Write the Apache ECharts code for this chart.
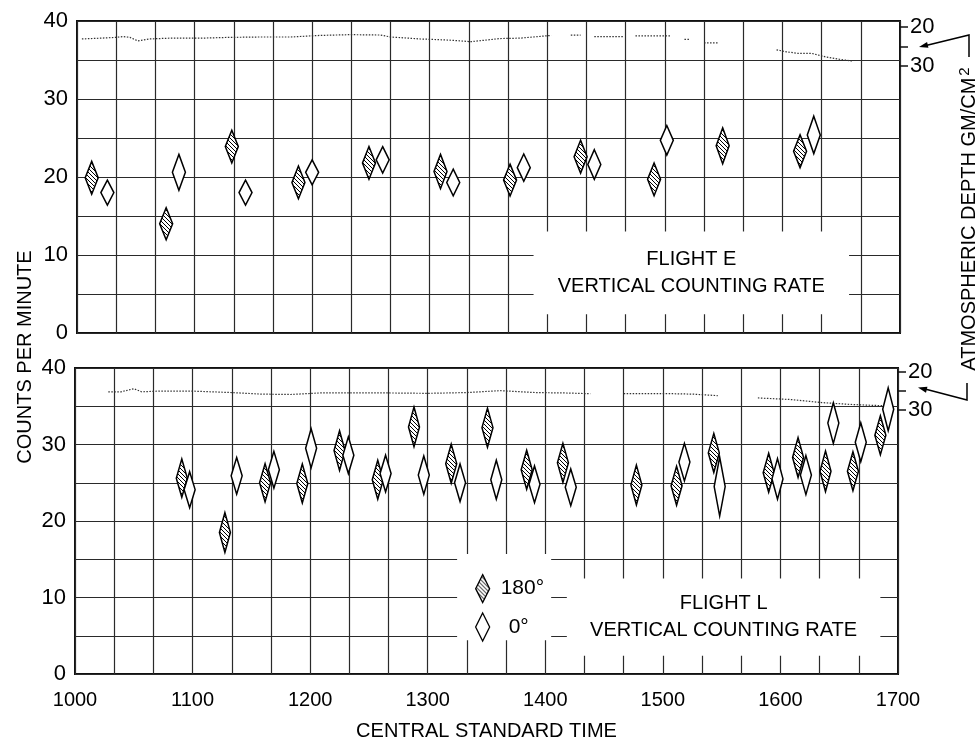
<!DOCTYPE html>
<html><head><meta charset="utf-8">
<script src="https://cdn.jsdelivr.net/npm/echarts@6/dist/echarts.min.js"></script>
<style>html,body{margin:0;padding:0;background:#fff}#c{width:979px;height:742px}</style>
</head><body><div id="c"></div>
<script>
// ---- data (time = minutes after 1000 CST) ----
const xTickLabels = ['1000','1100','1200','1300','1400','1500','1600','1700'];
const countLabels = [0, 10, 20, 30, 40];
const depthTicks = [20, 25, 30];
const depthLabels = [20, 30];

// Flight E, 180 deg (hatched)
const E180_t = [7.5, 45.5, 79, 113, 149, 185.5, 221, 257, 294.5, 329.5, 369];
const E180_r = [19.9, 14.0, 23.9, 19.3, 21.8, 20.7, 19.6, 22.6, 19.7, 24.0, 23.3];
const E180_e = [2.1, 2.05, 2.1, 2.1, 2.1, 2.2, 2.05, 2.1, 2.1, 2.3, 2.1];
// Flight E, 0 deg (open)
const E0_t = [15.5, 52, 86, 120, 156, 192, 228, 264, 301, 376];
const E0_r = [18.0, 20.6, 18.0, 20.6, 22.2, 19.3, 21.2, 21.6, 24.7, 25.4];
const E0_e = [1.6, 2.3, 1.6, 1.6, 1.7, 1.7, 1.75, 1.9, 1.9, 2.4];
// Flight L, 180 deg (hatched)
const L180_t = [54.5, 76.5, 97, 116, 135, 154.5, 173, 192, 210.5, 230.5, 249, 286.5, 307, 326, 354, 369, 383, 397, 411];
const L180_r = [25.6, 18.5, 25.0, 24.9, 29.2, 25.4, 32.3, 27.5, 32.2, 26.7, 27.6, 24.7, 24.6, 28.9, 26.3, 28.3, 26.5, 26.5, 31.2];
const L180_e = [2.5, 2.6, 2.5, 2.55, 2.6, 2.55, 2.6, 2.55, 2.55, 2.55, 2.55, 2.6, 2.55, 2.55, 2.55, 2.6, 2.65, 2.55, 2.55];
// Flight L, 0 deg (open)
const L0_t = [58.5, 82.5, 101.5, 120.5, 139.5, 158.5, 178, 196.5, 215, 234.5, 253, 311, 329, 358.5, 373, 387, 401, 415];
const L0_r = [24.1, 25.9, 26.7, 29.5, 28.6, 26.2, 26.0, 25.0, 25.4, 24.8, 24.4, 27.7, 24.5, 25.5, 26.0, 32.8, 30.3, 34.6];
const L0_e = [2.35, 2.4, 2.4, 2.55, 2.4, 2.4, 2.5, 2.45, 2.55, 2.4, 2.4, 2.45, 3.85, 2.65, 2.55, 2.65, 2.55, 2.8];

// Atmospheric depth traces (g/cm^2), null = gap
const Edepth_t = [2.5, 12, 20, 23.5, 27, 31, 37, 47.5, 63, 78, 93.5, 109, 124, 139.5, 155, 160, 175, 190, 201, 216, 226, 242, 246, 252, 257, 260, 264, 271, 279, 282, 285, 294, 303, 306, 310, 313, 316, 320, 327, 340, 357, 362, 368, 375, 382, 389, 396];
const Edepth_d = [23.1, 22.9, 22.7, 22.5, 22.7, 23.6, 23.1, 22.9, 22.9, 22.7, 22.6, 22.6, 22.2, 22.0, 22.1, 22.6, 23.1, 23.4, 23.8, 23.0, 22.9, 22.2, null, 22.1, 22.1, null, 22.5, 22.5, 22.5, null, 22.3, 22.3, 22.3, null, 23.2, 23.2, null, 24.1, 24.1, null, 25.9, 26.4, 26.8, 26.8, 27.7, 28.3, 28.8];
const Ldepth_t = [17, 23.5, 30, 34, 44, 59, 80, 95, 110, 125, 140, 160, 180, 200, 217, 235, 250, 263, 271, 280, 294, 305, 315, 328, 338, 348.5, 365, 381, 396, 416];
const Ldepth_d = [25.2, 25.2, 24.4, 25.2, 25.0, 25.0, 25.4, 25.8, 25.9, 25.5, 25.5, 25.5, 25.6, 25.4, 24.9, 25.4, 25.5, 25.7, null, 25.7, 25.7, 25.7, 25.8, 26.2, null, 26.8, 27.2, 28.0, 28.5, 28.9];

// ---- styling ----
const FONT = "'Liberation Sans', Arial, sans-serif";
const pc = document.createElement('canvas');
pc.width = 4; pc.height = 4;
const pctx = pc.getContext('2d');
pctx.fillStyle = '#fff'; pctx.fillRect(0, 0, 4, 4);
pctx.strokeStyle = '#000'; pctx.lineWidth = 1;
pctx.beginPath();
pctx.moveTo(-1, -1); pctx.lineTo(5, 5);
pctx.moveTo(-1, 3); pctx.lineTo(1, 5);
pctx.moveTo(3, -1); pctx.lineTo(5, 1);
pctx.stroke();
const HATCH = { image: pc, repeat: 'repeat' };

function diamondSeries(name, t, r, e, xi, yi, fill, halfW) {
  return {
    type: 'custom', name, xAxisIndex: xi, yAxisIndex: yi, z: 5,
    data: t.map((x, i) => [x, r[i], e[i]]),
    encode: { x: 0, y: 1 },
    itemStyle: { color: fill, borderColor: '#000' },
    renderItem: (params, api) => {
      const x = api.value(0), y = api.value(1), er = api.value(2);
      const c = api.coord([x, y]);
      const tp = api.coord([x, y + er]);
      const bt = api.coord([x, y - er]);
      return {
        type: 'polygon',
        shape: { points: [tp, [c[0] + halfW, c[1]], bt, [c[0] - halfW, c[1]]] },
        style: { fill: fill, stroke: '#000', lineWidth: 1.5 }
      };
    }
  };
}
function traceSeries(t, d, xi, yi) {
  return {
    type: 'line', xAxisIndex: xi, yAxisIndex: yi, showSymbol: false, silent: true,
    connectNulls: false, z: 3,
    data: t.map((x, i) => [x, d[i] === null ? '-' : d[i]]),
    lineStyle: { color: '#333', width: 1.2, type: [1.5, 1.5] }
  };
}
function boxSeries(xi, yi, areas) {
  return {
    type: 'scatter', xAxisIndex: xi, yAxisIndex: yi, data: [], symbolSize: 0, silent: true,
    markArea: {
      silent: true,
      itemStyle: { color: '#fff', opacity: 1 },
      label: { show: true, position: 'inside', color: '#000', fontSize: 20, lineHeight: 27, fontFamily: FONT },
      data: areas
    }
  };
}
function arrowHead(tip, from, len, half) {
  const dx = tip[0] - from[0], dy = tip[1] - from[1];
  const L = Math.hypot(dx, dy), ux = dx / L, uy = dy / L;
  const bx = tip[0] - ux * len, by = tip[1] - uy * len;
  return [tip, [bx - uy * half, by + ux * half], [bx + uy * half, by - ux * half]];
}

const gridLine = { show: true, lineStyle: { color: '#2a2a2a', width: 1.2 } };
function xAx(gi, showLabels) {
  const a = {
    gridIndex: gi, type: 'value', min: 0, max: 420, interval: 20,
    axisLine: { show: false }, axisTick: { show: false },
    splitLine: gridLine,
    axisLabel: { show: showLabels, showMinLabel: true, showMaxLabel: true,
      formatter: v => (v % 60 === 0 ? xTickLabels[v / 60] : ''),
      fontSize: 20, color: '#000', margin: 16, fontFamily: FONT }
  };
  if (showLabels) {
    a.name = 'CENTRAL STANDARD TIME';
    a.nameLocation = 'middle';
    a.nameGap = 47;
    a.nameTextStyle = { fontSize: 20, color: '#000', fontFamily: FONT };
  }
  return a;
}
function yCount(gi) {
  return {
    gridIndex: gi, type: 'value', min: 0, max: 40, interval: 5,
    axisLine: { show: false }, axisTick: { show: false },
    splitLine: gridLine,
    axisLabel: { showMinLabel: true, showMaxLabel: true,
      formatter: v => (countLabels.indexOf(v) >= 0 ? String(v) : ''),
      fontSize: 22, color: '#000', margin: 9, fontFamily: FONT }
  };
}
function yDepth(gi, mn, mx) {
  return {
    gridIndex: gi, type: 'value', position: 'right', inverse: true, min: mn, max: mx,
    axisLine: { show: false }, splitLine: { show: false },
    axisTick: { show: true, customValues: depthTicks, length: 8, inside: false,
      lineStyle: { color: '#111', width: 1.5 } },
    axisLabel: { show: true, customValues: depthLabels, fontSize: 22, color: '#000', margin: 10, fontFamily: FONT }
  };
}

const chart = echarts.init(document.getElementById('c'));
chart.setOption({
  animation: false,
  backgroundColor: '#fff',
  textStyle: { fontFamily: FONT },
  grid: [
    { left: 77, top: 21, width: 823, height: 312, show: true, borderColor: '#111', borderWidth: 2 },
    { left: 75, top: 368, width: 823, height: 311, show: true, borderColor: '#111', borderWidth: 2 }
  ],
  xAxis: [xAx(0, false), xAx(1, true)],
  yAxis: [yCount(0), yDepth(0, 18.5, 98.5), yCount(1), yDepth(1, 19.0, 98.7)],
  legend: {
    data: [
      { name: '180°', itemStyle: { color: HATCH, borderColor: '#000', borderWidth: 1.3 } },
      { name: '0°', itemStyle: { color: '#fff', borderColor: '#000', borderWidth: 1.3 },
        textStyle: { fontSize: 21, color: '#000', fontFamily: FONT, padding: [0, 0, 0, 14] } }
    ],
    icon: 'diamond', orient: 'vertical', left: 470, top: 569,
    itemWidth: 14, itemHeight: 28, itemGap: 9, selectedMode: false,
    textStyle: { fontSize: 21, color: '#000', fontFamily: FONT, padding: [0, 0, 0, 6] }
  },
  series: [
    boxSeries(0, 0, [[{ xAxis: 233, yAxis: 2.4, name: 'FLIGHT E\nVERTICAL COUNTING RATE' }, { xAxis: 394, yAxis: 13 }]]),
    boxSeries(1, 2, [
      [{ xAxis: 195, yAxis: 4.4, name: '' }, { xAxis: 243, yAxis: 15.7 }],
      [{ xAxis: 251, yAxis: 2.4, name: 'FLIGHT L\nVERTICAL COUNTING RATE' }, { xAxis: 411, yAxis: 12.5 }]
    ]),
    traceSeries(Edepth_t, Edepth_d, 0, 1),
    traceSeries(Ldepth_t, Ldepth_d, 1, 3),
    diamondSeries('180°', E180_t, E180_r, E180_e, 0, 0, HATCH, 6.5),
    diamondSeries('0°', E0_t, E0_r, E0_e, 0, 0, '#fff', 6.5),
    diamondSeries('180°', L180_t, L180_r, L180_e, 1, 2, HATCH, 5.5),
    diamondSeries('0°', L0_t, L0_r, L0_e, 1, 2, '#fff', 5.5)
  ],
  graphic: [
    { type: 'text', x: 25, y: 357, rotation: Math.PI / 2,
      style: { text: 'COUNTS PER MINUTE', fontSize: 20, fontFamily: FONT, fill: '#000', align: 'center', verticalAlign: 'middle' } },
    { type: 'text', x: 969, y: 219, rotation: Math.PI / 2,
      style: { text: 'ATMOSPHERIC DEPTH GM/CM{s|2}', fontSize: 20, fontFamily: FONT, fill: '#000', align: 'center', verticalAlign: 'middle',
        rich: { s: { fontSize: 15, fontFamily: FONT, fill: '#000', verticalAlign: 'top', padding: [0, 0, 8, 2] } } } },
    { type: 'polyline', shape: { points: [[969, 57], [969, 35], [926, 45.5]] }, style: { stroke: '#000', lineWidth: 1.5, fill: null } },
    { type: 'polygon', shape: { points: arrowHead([919, 47], [969, 35], 9, 3) }, style: { fill: '#000' } },
    { type: 'polyline', shape: { points: [[967, 383], [967, 400], [925, 389]] }, style: { stroke: '#000', lineWidth: 1.5, fill: null } },
    { type: 'polygon', shape: { points: arrowHead([918, 387.5], [967, 400], 9, 3) }, style: { fill: '#000' } }
  ]
});
</script>
</body></html>
